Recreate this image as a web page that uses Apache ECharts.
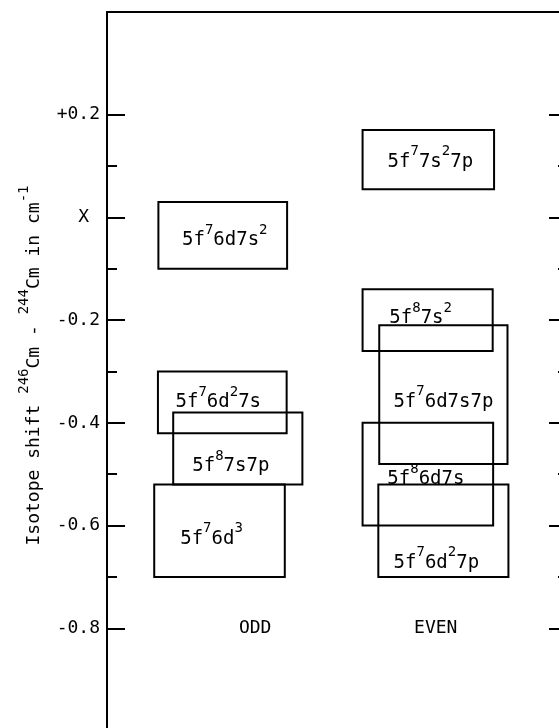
<!DOCTYPE html>
<html style="height: 100%">
<head>
<meta charset="utf-8">
</head>
<body style="height: 100%; margin: 0; background: #fff">
<div id="container" style="width: 559px; height: 728px"></div>
<script src="https://cdn.jsdelivr.net/npm/echarts@6/dist/echarts.min.js"></script>
<script type="text/javascript">
		// electron configurations, {s|..} = superscript
		var configs = ['5f{s|7}6d7s{s|2}', '5f{s|7}6d{s|2}7s', '5f{s|8}7s7p', '5f{s|7}6d{s|3}',
		               '5f{s|7}7s{s|2}7p', '5f{s|8}7s{s|2}', '5f{s|7}6d7s7p', '5f{s|8}6d7s', '5f{s|7}6d{s|2}7p'];
		// horizontal extent of each box (arbitrary 0-100 scale)
		var boxLeft  = [11.1, 11.0, 14.3, 10.2, 55.2, 55.2, 58.8, 55.2, 58.6];
		var boxRight = [38.9, 38.8, 42.2, 38.4, 83.6, 83.3, 86.5, 83.4, 86.7];
		// isotope shift range, cm-1
		var shiftTop    = [0.03, -0.30, -0.38, -0.52, 0.17, -0.14, -0.21, -0.40, -0.52];
		var shiftBottom = [-0.10, -0.42, -0.52, -0.70, 0.055, -0.26, -0.48, -0.60, -0.70];
		var groups = ['ODD', 'EVEN'];
		var groupX = [32, 71];
		var groupY = [-0.8, -0.8];
		var majorTicks = [0.2, 0, -0.2, -0.4, -0.6, -0.8];
		var tickLabels = ['+0.2', 'X ', '-0.2', '-0.4', '-0.6', '-0.8'];
		var minorTicks = [0.1, -0.1, -0.3, -0.5, -0.7];

		var FONT = 'DejaVu Sans Mono';
		var INK = '#000';
		// label nudges in px from box centre
		var labelNudge = [[2, 5], [-4, 0], [-7, 18], [-8, 8], [2, 2], [-7, -2], [0, 7], [-2, 5], [-7, 32]];

		var dom = document.getElementById('container');
		var chart = echarts.init(dom);

		var boxData = [];
		for (var i = 0; i < configs.length; i++) {
		    boxData.push([boxLeft[i], boxRight[i], shiftTop[i], shiftBottom[i]]);
		}
		var groupData = [];
		for (var j = 0; j < groups.length; j++) {
		    groupData.push({name: groups[j], value: [groupX[j], groupY[j]]});
		}

		function renderBox(params, api) {
		    var i = params.dataIndex;
		    var p0 = api.coord([api.value(0), api.value(2)]);
		    var p1 = api.coord([api.value(1), api.value(3)]);
		    var n = labelNudge[i];
		    return {
		        type: 'group',
		        children: [
		            {
		                type: 'rect',
		                shape: {x: p0[0], y: p0[1], width: p1[0] - p0[0], height: p1[1] - p0[1]},
		                style: {fill: 'transparent', stroke: INK, lineWidth: 2}
		            },
		            {
		                type: 'text',
		                x: (p0[0] + p1[0]) / 2 + n[0],
		                y: (p0[1] + p1[1]) / 2 + n[1],
		                style: {
		                    text: configs[i],
		                    fontFamily: FONT,
		                    fontSize: 19,
		                    lineHeight: 22,
		                    fill: INK,
		                    align: 'center',
		                    verticalAlign: 'middle',
		                    rich: {
		                        s: {fontFamily: FONT, fontSize: 14, lineHeight: 10, padding: [0, 0, 20, 0], fill: INK}
		                    }
		                }
		            }
		        ]
		    };
		}

		function yAxisBase(pos, ticks, len, labels) {
		    return {
		        type: 'value',
		        position: pos,
		        min: -1.0,
		        max: 0.4,
		        interval: 0.2,
		        axisLine: {show: pos == 'left' && labels, onZero: false, lineStyle: {color: INK, width: 2}},
		        axisTick: {show: true, inside: true, length: len, customValues: ticks, lineStyle: {color: INK, width: 2}},
		        axisLabel: {
		            show: labels,
		            customValues: majorTicks,
		            margin: 7,
		            fontFamily: FONT,
		            fontSize: 18,
		            color: INK,
		            formatter: function (v) {
		                for (var k = 0; k < majorTicks.length; k++) {
		                    if (Math.abs(majorTicks[k] - v) < 1e-6) return tickLabels[k];
		                }
		                return '';
		            }
		        },
		        splitLine: {show: false}
		    };
		}

		var yMain = yAxisBase('left', majorTicks, 18, true);
		yMain.name = 'Isotope shift {s|246}Cm - {s|244}Cm in cm{s|-1}';
		yMain.nameLocation = 'middle';
		yMain.nameRotate = 90;
		yMain.nameGap = 58;
		yMain.nameMoveOverlap = false;
		yMain.nameTextStyle = {
		    fontFamily: FONT,
		    fontSize: 18,
		    lineHeight: 30,
		    color: INK,
		    padding: [0, 0, 0, 12],
		    rich: {
		        s: {fontFamily: FONT, fontSize: 14, lineHeight: 10, padding: [0, 0, 20, 0], color: INK}
		    }
		};

		var option = {
		    backgroundColor: '#fff',
		    animation: false,
		    grid: {left: 107, right: -11, top: 12, bottom: -3, outerBoundsMode: 'none'},
		    xAxis: {
		        type: 'value',
		        position: 'top',
		        min: 0,
		        max: 100,
		        axisLine: {show: true, onZero: false, lineStyle: {color: INK, width: 2}},
		        axisTick: {show: false},
		        axisLabel: {show: false},
		        splitLine: {show: false}
		    },
		    yAxis: [
		        yMain,
		        yAxisBase('left', minorTicks, 10, false),
		        yAxisBase('right', majorTicks, 21, false),
		        yAxisBase('right', minorTicks, 12, false)
		    ],
		    series: [
		        {
		            type: 'custom',
		            renderItem: renderBox,
		            data: boxData,
		            encode: {x: [0, 1], y: [2, 3]},
		            silent: true
		        },
		        {
		            type: 'scatter',
		            symbolSize: 0,
		            data: groupData,
		            itemStyle: {opacity: 1},
		            label: {
		                show: true,
		                position: 'inside',
		                formatter: '{b}',
		                fontFamily: FONT,
		                fontSize: 18,
		                color: INK,
		                opacity: 1,
		                textBorderWidth: 0
		            },
		            silent: true
		        }
		    ]
		};
		chart.setOption(option, true);
</script>
</body>
</html>
